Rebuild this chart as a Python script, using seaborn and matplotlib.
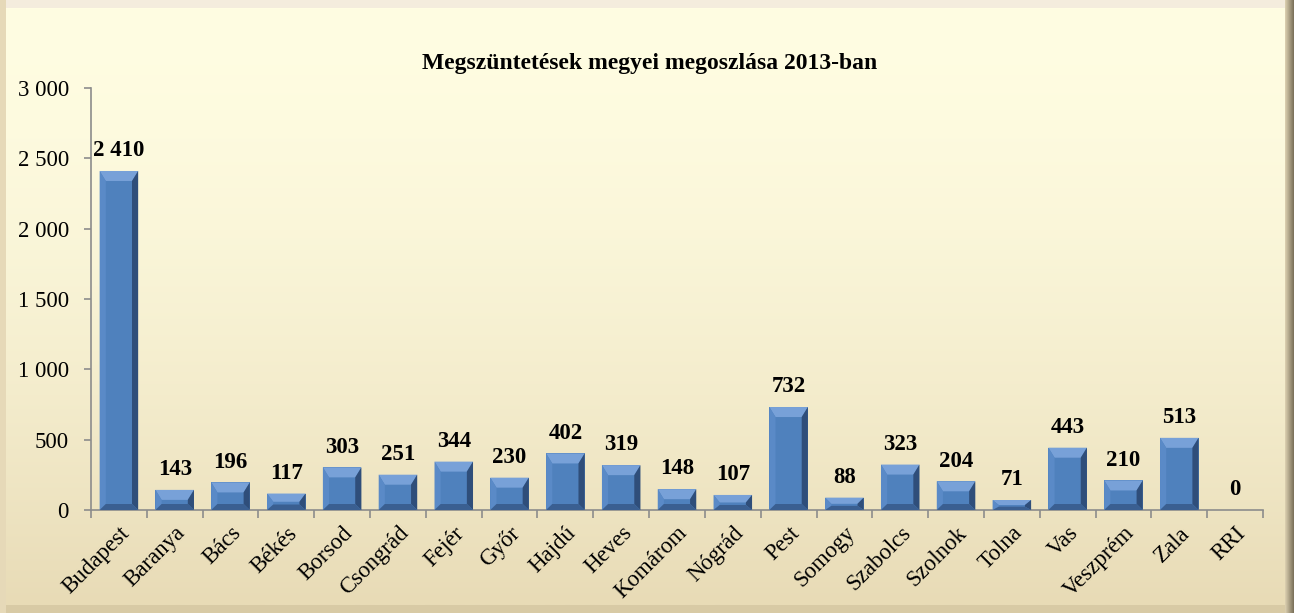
import numpy as np
import pandas as pd
import matplotlib
matplotlib.use("Agg")
import matplotlib.pyplot as plt
import seaborn as sns
from matplotlib.patches import Polygon, Rectangle
from matplotlib.ticker import FuncFormatter, MultipleLocator, FixedLocator

categories = ["Budapest", "Baranya", "Bács", "Békés", "Borsod", "Csongrád", "Fejér",
              "Győr", "Hajdú", "Heves", "Komárom", "Nógrád", "Pest", "Somogy",
              "Szabolcs", "Szolnok", "Tolna", "Vas", "Veszprém", "Zala", "RRI"]
values = [2410, 143, 196, 117, 303, 251, 344, 230, 402, 319, 148, 107, 732, 88,
          323, 204, 71, 443, 210, 513, 0]
title = "Megszüntetések megyei megoszlása 2013-ban"

sns.set_theme(style="white")
plt.rcParams['font.family'] = ['Liberation Serif', 'DejaVu Serif']

W, H = 1294, 613
fig = plt.figure(figsize=(W / 100, H / 100), dpi=100)
fig.patch.set_facecolor("#E2D5B2")

# background frame + gradient
bg = fig.add_axes([0, 0, 1, 1], zorder=0)
bg.set_xlim(0, W)
bg.set_ylim(H, 0)
bg.axis('off')
bg.add_patch(Rectangle((0, 0), W, 8, color="#F4ECDD", lw=0))
bg.add_patch(Rectangle((0, 0), 6, H, color="#E6D9B8", lw=0))
rg = np.linspace(0, 1, 64)[None, :, None]
cr0 = np.array([222, 210, 178]) / 255
cr1 = np.array([120, 110, 88]) / 255
bg.imshow(cr0 * (1 - rg) + cr1 * rg, extent=[1285, W, H, 0], aspect='auto', zorder=1)
bg.add_patch(Rectangle((0, 605), W, 8, color="#D8CAA5", lw=0, zorder=0.5))
t = np.linspace(0, 1, 256)[:, None, None]
top = np.array([255, 253, 226]) / 255
bot = np.array([232, 219, 182]) / 255
wgt = t ** 1.6
img = top * (1 - wgt) + bot * wgt
bg.imshow(img, extent=[6, 1285, 605, 8], aspect='auto', zorder=2)

ax = fig.add_axes([91 / W, 1 - 510 / H, (1263 - 91) / W, (510 - 88) / H], zorder=1)
ax.set_facecolor("none")
df = pd.DataFrame({"cat": categories, "val": values})
sns.barplot(data=df, x="cat", y="val", color="#4F81BD", width=0.69, ax=ax,
            saturation=1, edgecolor="none", linewidth=0)

ax.set_ylim(0, 3000)
ax.set_xlim(-0.5, len(categories) - 0.5)
ax.yaxis.set_major_locator(MultipleLocator(500))
ax.yaxis.set_major_formatter(FuncFormatter(lambda v, p: f"{int(v):,}".replace(",", " ")))
ax.set_xlabel("")
ax.set_ylabel("")
for s in ["top", "right"]:
    ax.spines[s].set_visible(False)
for s in ["left", "bottom"]:
    ax.spines[s].set_color("#8C8C8C")
    ax.spines[s].set_linewidth(1.2)

ax.tick_params(axis='y', which='major', length=5, width=1.2, color="#8C8C8C",
               labelsize=16.5, pad=11, direction='out', left=True)
ax.xaxis.set_minor_locator(FixedLocator(np.arange(-0.5, len(categories), 1.0)))
ax.tick_params(axis='x', which='minor', length=6, width=1.2, color="#8C8C8C",
               direction='out', bottom=True)
ax.tick_params(axis='x', which='major', length=0, labelsize=16.5, pad=9)
ax.set_xticks(range(len(categories)))
ax.set_xticklabels(categories, rotation=45, ha='right', rotation_mode='anchor')
for lab in ax.get_yticklabels() + ax.get_xticklabels():
    lab.set_color("black")

# bevel shading derived from bar geometry
px_y = 3000 / (510 - 88)
for p in ax.patches:
    x0, w, h = p.get_x(), p.get_width(), p.get_height()
    if h <= 0:
        continue
    dx = w * 0.16
    dy = min(10 * px_y, h / 2)
    db = min(6 * px_y, h / 3)
    x1 = x0 + w
    ax.add_patch(Polygon([(x0, h), (x1, h), (x1 - dx, h - dy), (x0 + dx, h - dy)],
                         closed=True, color="#78A1D8", lw=0, zorder=3))
    ax.add_patch(Polygon([(x1, h), (x1, 0), (x1 - dx, db), (x1 - dx, h - dy)],
                         closed=True, color="#2F4E7A", lw=0, zorder=3))
    ax.add_patch(Polygon([(x0, h), (x0, 0), (x0 + dx, db), (x0 + dx, h - dy)],
                         closed=True, color="#5A8AC7", lw=0, zorder=3))
    ax.add_patch(Polygon([(x0, 0), (x1, 0), (x1 - dx, db), (x0 + dx, db)],
                         closed=True, color="#3A5F91", lw=0, zorder=3))

ax.bar_label(ax.containers[0], labels=[f"{v:,}".replace(",", " ") for v in values],
             padding=7, fontsize=16.5, fontweight='bold', color='black')

fig.text(650 / W, 1 - 63 / H, title, ha='center', va='center',
         fontsize=17, fontweight='bold', color='black')

fig.savefig("out.png", dpi=100)
